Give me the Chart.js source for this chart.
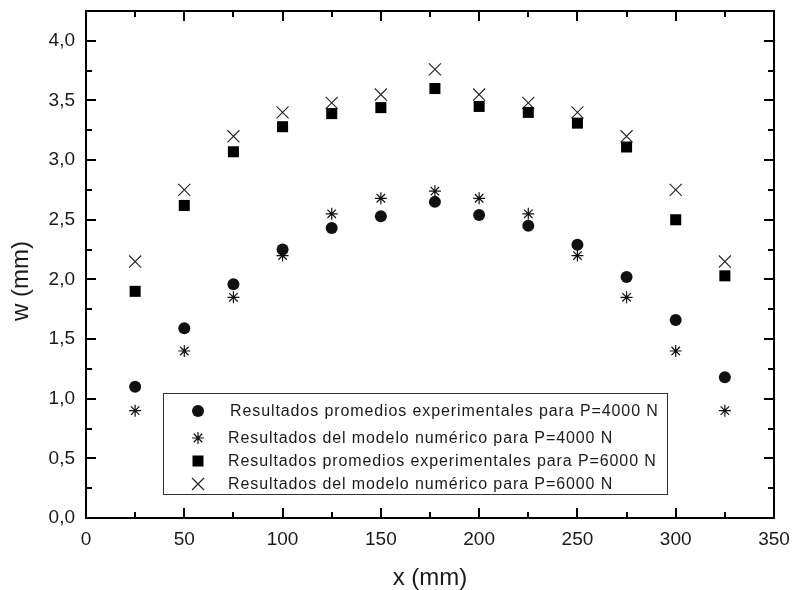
<!DOCTYPE html>
<html>
<head>
<meta charset="utf-8">
<script src="https://cdn.jsdelivr.net/npm/chart.js@4/dist/chart.umd.min.js"></script>
<style>
  html, body { margin: 0; padding: 0; background: #fff; }
  canvas { display: block; }
</style>
</head>
<body>
<canvas id="c" width="793" height="590"></canvas>
<script>
// Positions along the plate (mm)
const xPos = [25, 50, 75, 100, 125, 150, 177.5, 200, 225, 250, 275, 300, 325];

// Deflection w (mm)
const expP4000 = [1.10, 1.59, 1.96, 2.25, 2.43, 2.53, 2.65, 2.54, 2.45, 2.29, 2.02, 1.66, 1.18];
const numP4000 = [0.90, 1.40, 1.85, 2.20, 2.55, 2.68, 2.74, 2.68, 2.55, 2.20, 1.85, 1.40, 0.90];
const expP6000 = [1.90, 2.62, 3.07, 3.28, 3.39, 3.44, 3.60, 3.45, 3.40, 3.31, 3.11, 2.50, 2.03];
const numP6000 = [2.15, 2.75, 3.20, 3.40, 3.48, 3.55, 3.76, 3.55, 3.48, 3.40, 3.20, 2.75, 2.15];

const seriesLabels = [
  'Resultados promedios experimentales para P=4000 N',
  'Resultados del modelo numérico para P=4000 N',
  'Resultados promedios experimentales para P=6000 N',
  'Resultados del modelo numérico para P=6000 N'
];

const xTickValues = [0, 50, 100, 150, 200, 250, 300, 350];
const yTickValues = [0, 0.5, 1.0, 1.5, 2.0, 2.5, 3.0, 3.5, 4.0];

const pts = (ys) => xPos.map((x, i) => ({ x: x, y: ys[i] }));

const FONT = '"Liberation Sans", Arial, sans-serif';
const INK = '#1a1a1a';

// Frame with inward-pointing major/minor ticks on all four sides
const framePlugin = {
  id: 'frame',
  afterDraw(chart) {
    const { ctx, chartArea: a, scales } = chart;
    const sx = scales.x, sy = scales.y;
    ctx.save();
    ctx.strokeStyle = '#000';
    ctx.lineWidth = 2;
    ctx.strokeRect(a.left, a.top, a.right - a.left, a.bottom - a.top);
    ctx.beginPath();
    for (let v = 25; v < 350; v += 25) {
      const px = Math.round(sx.getPixelForValue(v));
      const len = v % 50 === 0 ? 10 : 6;
      ctx.moveTo(px, a.bottom); ctx.lineTo(px, a.bottom - len);
      ctx.moveTo(px, a.top); ctx.lineTo(px, a.top + len);
    }
    for (let k = 1; k <= 16; k++) {
      const v = k * 0.25;
      const py = Math.round(sy.getPixelForValue(v));
      const len = k % 2 === 0 ? 10 : 6;
      ctx.moveTo(a.left, py); ctx.lineTo(a.left + len, py);
      ctx.moveTo(a.right, py); ctx.lineTo(a.right - len, py);
    }
    ctx.stroke();

    // vertical axis title
    ctx.fillStyle = INK;
    ctx.font = '24px ' + FONT;
    ctx.textAlign = 'center';
    ctx.textBaseline = 'middle';
    ctx.translate(21.5, 281);
    ctx.rotate(-Math.PI / 2);
    ctx.fillText('w (mm)', 0, 0);
    ctx.restore();
  }
};

// Boxed legend placed inside the plot area
const legendBoxPlugin = {
  id: 'legendBox',
  afterDraw(chart) {
    const ctx = chart.ctx;
    const box = { x: 163, y: 393, w: 504, h: 101 };
    const rows = [411, 438, 461, 484];
    const symX = 198;
    ctx.save();
    ctx.fillStyle = '#fff';
    ctx.fillRect(box.x, box.y, box.w, box.h);
    ctx.strokeStyle = '#333';
    ctx.lineWidth = 1;
    ctx.strokeRect(box.x + 0.5, box.y + 0.5, box.w, box.h);
    chart.data.datasets.forEach((ds, i) => {
      const y = rows[i];
      ctx.fillStyle = ds.backgroundColor;
      ctx.strokeStyle = ds.borderColor;
      ctx.lineWidth = 1.2;
      ctx.beginPath();
      if (ds.pointStyle === 'circle') {
        ctx.arc(symX, y, 6, 0, Math.PI * 2);
        ctx.fill();
      } else if (ds.pointStyle === 'rect') {
        ctx.fillRect(symX - 5.5, y - 5.5, 11, 11);
      } else if (ds.pointStyle === 'star') {
        const r = 6;
        ctx.moveTo(symX - r, y); ctx.lineTo(symX + r, y);
        ctx.moveTo(symX, y - r); ctx.lineTo(symX, y + r);
        const d = r * Math.SQRT1_2;
        ctx.moveTo(symX - d, y - d); ctx.lineTo(symX + d, y + d);
        ctx.moveTo(symX - d, y + d); ctx.lineTo(symX + d, y - d);
        ctx.stroke();
      } else {
        const d = 6;
        ctx.moveTo(symX - d, y - d); ctx.lineTo(symX + d, y + d);
        ctx.moveTo(symX - d, y + d); ctx.lineTo(symX + d, y - d);
        ctx.stroke();
      }
      ctx.fillStyle = INK;
      ctx.font = '16px ' + FONT;
      ctx.letterSpacing = '0.9px';
      ctx.textBaseline = 'middle';
      ctx.textAlign = 'left';
      ctx.fillText(ds.label, i === 0 ? 230 : 228, y + 1);
      ctx.letterSpacing = '0px';
    });
    ctx.restore();
  }
};

new Chart(document.getElementById('c'), {
  type: 'scatter',
  data: {
    datasets: [
      { label: seriesLabels[0], data: pts(expP4000), pointStyle: 'circle', pointRadius: 6,
        backgroundColor: '#111', borderColor: '#111', borderWidth: 0 },
      { label: seriesLabels[1], data: pts(numP4000), pointStyle: 'star', pointRadius: 6,
        backgroundColor: '#111', borderColor: '#111', borderWidth: 1.2 },
      { label: seriesLabels[2], data: pts(expP6000), pointStyle: 'rect', pointRadius: 7.8,
        backgroundColor: '#000', borderColor: '#000', borderWidth: 0 },
      { label: seriesLabels[3], data: pts(numP6000), pointStyle: 'crossRot', pointRadius: 8.5,
        backgroundColor: '#222', borderColor: '#222', borderWidth: 1.1 }
    ]
  },
  options: {
    responsive: false,
    animation: false,
    layout: { padding: { top: 11, right: 19, left: 0, bottom: 0 } },
    plugins: { legend: { display: false }, tooltip: { enabled: false } },
    scales: {
      x: {
        type: 'linear', min: 0, max: 350,
        grid: { display: false, drawTicks: false },
        border: { display: false },
        afterBuildTicks: (s) => { s.ticks = xTickValues.map(v => ({ value: v })); },
        afterFit: (s) => { s.height = 72; s.paddingLeft = 0; s.paddingRight = 0; },
        ticks: { color: INK, font: { family: FONT, size: 19 }, padding: 10, maxRotation: 0,
                 callback: (v) => String(v) },
        title: { display: true, text: 'x (mm)', color: INK,
                 font: { family: FONT, size: 24, lineHeight: 1 },
                 padding: { top: 0, bottom: 0 } }
      },
      y: {
        type: 'linear', min: 0, max: 4.25,
        grid: { display: false, drawTicks: false },
        border: { display: false },
        afterBuildTicks: (s) => { s.ticks = yTickValues.map(v => ({ value: v })); },
        afterFit: (s) => { s.width = 86; s.paddingTop = 0; s.paddingBottom = 0; },
        ticks: { color: INK, font: { family: FONT, size: 19 }, padding: 11,
                 callback: (v) => v.toFixed(1).replace('.', ',') }
      }
    }
  },
  plugins: [framePlugin, legendBoxPlugin]
});
</script>
</body>
</html>
